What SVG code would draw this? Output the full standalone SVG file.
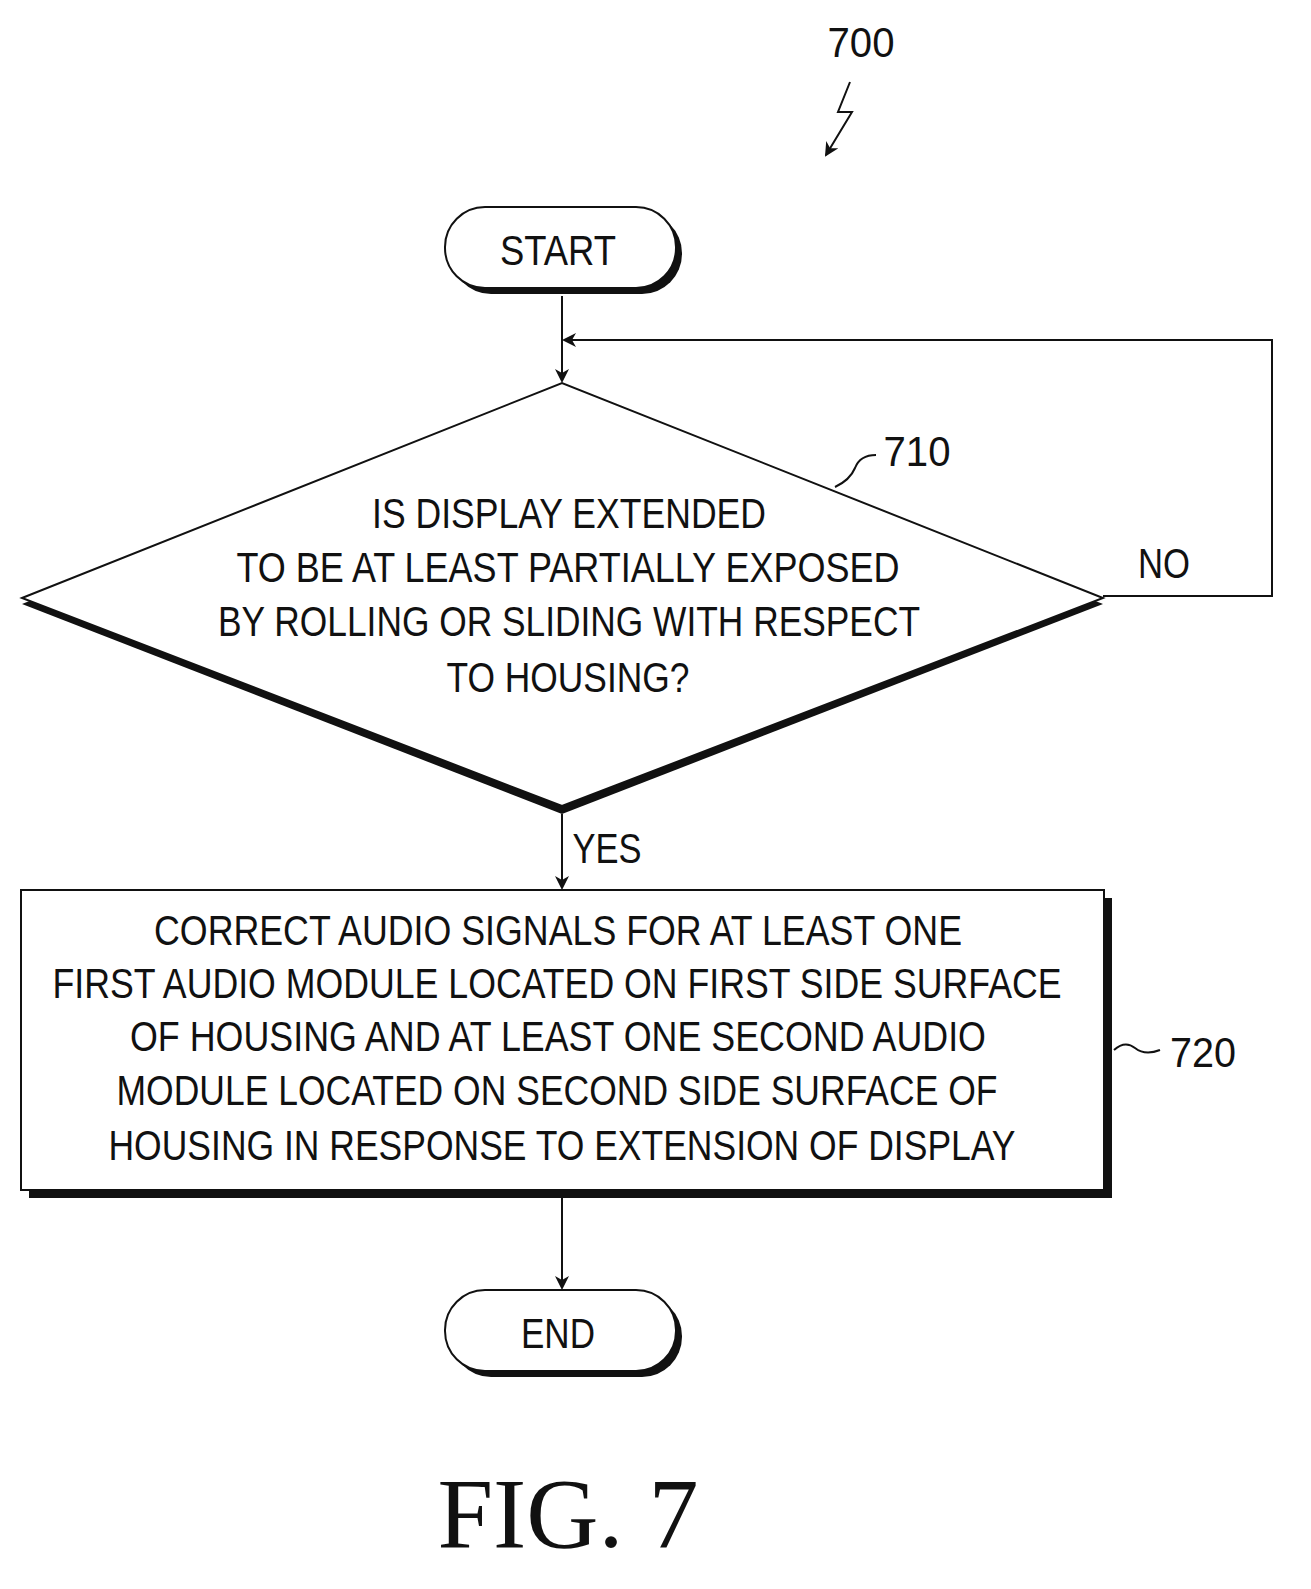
<svg xmlns="http://www.w3.org/2000/svg" width="1311" height="1589" viewBox="0 0 1311 1589">
<style>
.t{font-family:"Liberation Sans",Arial,sans-serif;font-size:42px;fill:#111;text-anchor:middle}
.l{fill:none;stroke:#111;stroke-width:2}
</style>
<defs><marker id="a" markerWidth="14" markerHeight="14" refX="12" refY="7" orient="auto" markerUnits="userSpaceOnUse"><path d="M0,0 L14,7 L0,14 L4,7 Z" fill="#111"/></marker></defs>
<rect width="1311" height="1589" fill="#fff"/>
<g id="label700"><text class="t" x="861" y="57" textLength="67" lengthAdjust="spacingAndGlyphs">700</text>
<path class="l" d="M850,82 L838,112 L852,112 L826,155" marker-end="url(#a)"/></g>
<g id="start"><rect x="451" y="213" width="231" height="81" rx="40" fill="#111"/><rect x="445" y="207" width="231" height="81" rx="40" fill="#fff" stroke="#111" stroke-width="2"/>
<text class="t" x="558" y="265" textLength="116" lengthAdjust="spacingAndGlyphs">START</text></g>
<g id="n710"><polygon points="22,604 562,389 1103,604 562,814" fill="#111"/><polygon points="22,598 562,383 1103,598 562,806" fill="#fff" stroke="#111" stroke-width="2"/>
<text class="t" x="569" y="528" textLength="394" lengthAdjust="spacingAndGlyphs">IS DISPLAY EXTENDED</text>
<text class="t" x="568" y="582" textLength="663" lengthAdjust="spacingAndGlyphs">TO BE AT LEAST PARTIALLY EXPOSED</text>
<text class="t" x="569" y="636" textLength="702" lengthAdjust="spacingAndGlyphs">BY ROLLING OR SLIDING WITH RESPECT</text>
<text class="t" x="568" y="692" textLength="243" lengthAdjust="spacingAndGlyphs">TO HOUSING?</text>
<text class="t" x="917" y="466" textLength="67" lengthAdjust="spacingAndGlyphs">710</text>
<path class="l" d="M835,487 Q850,480 855,468 Q860,455 876,455"/></g>
<g id="n720"><rect x="29" y="898" width="1083" height="300" fill="#111"/><rect x="21" y="890" width="1083" height="300" fill="#fff" stroke="#111" stroke-width="2"/>
<text class="t" x="558" y="945" textLength="808" lengthAdjust="spacingAndGlyphs">CORRECT AUDIO SIGNALS FOR AT LEAST ONE</text>
<text class="t" x="557" y="998" textLength="1009" lengthAdjust="spacingAndGlyphs">FIRST AUDIO MODULE LOCATED ON FIRST SIDE SURFACE</text>
<text class="t" x="558" y="1051" textLength="856" lengthAdjust="spacingAndGlyphs">OF HOUSING AND AT LEAST ONE SECOND AUDIO</text>
<text class="t" x="557" y="1105" textLength="881" lengthAdjust="spacingAndGlyphs">MODULE LOCATED ON SECOND SIDE SURFACE OF</text>
<text class="t" x="562" y="1160" textLength="907" lengthAdjust="spacingAndGlyphs">HOUSING IN RESPONSE TO EXTENSION OF DISPLAY</text>
<text class="t" x="1203" y="1067" textLength="66" lengthAdjust="spacingAndGlyphs">720</text>
<path class="l" d="M1114,1050 Q1125,1040 1135,1048 Q1145,1056 1160,1050"/></g>
<g id="end"><rect x="451" y="1296" width="231" height="81" rx="40" fill="#111"/><rect x="445" y="1290" width="231" height="81" rx="40" fill="#fff" stroke="#111" stroke-width="2"/>
<text class="t" x="558" y="1348" textLength="74" lengthAdjust="spacingAndGlyphs">END</text></g>
<g id="connectors">
<path class="l" d="M562,296 L562,381" marker-end="url(#a)"/>
<path class="l" d="M1103,596 L1272,596 L1272,340 L564,340" marker-end="url(#a)"/>
<path class="l" d="M562,814 L562,888" marker-end="url(#a)"/>
<path class="l" d="M562,1198 L562,1288" marker-end="url(#a)"/>
<text class="t" x="1164" y="578" textLength="52" lengthAdjust="spacingAndGlyphs">NO</text>
<text class="t" x="607" y="863" textLength="69" lengthAdjust="spacingAndGlyphs">YES</text>
</g>
<text x="568" y="1547" font-family="'Liberation Serif','Times New Roman',serif" font-size="100" text-anchor="middle" fill="#111">FIG. 7</text>
</svg>
